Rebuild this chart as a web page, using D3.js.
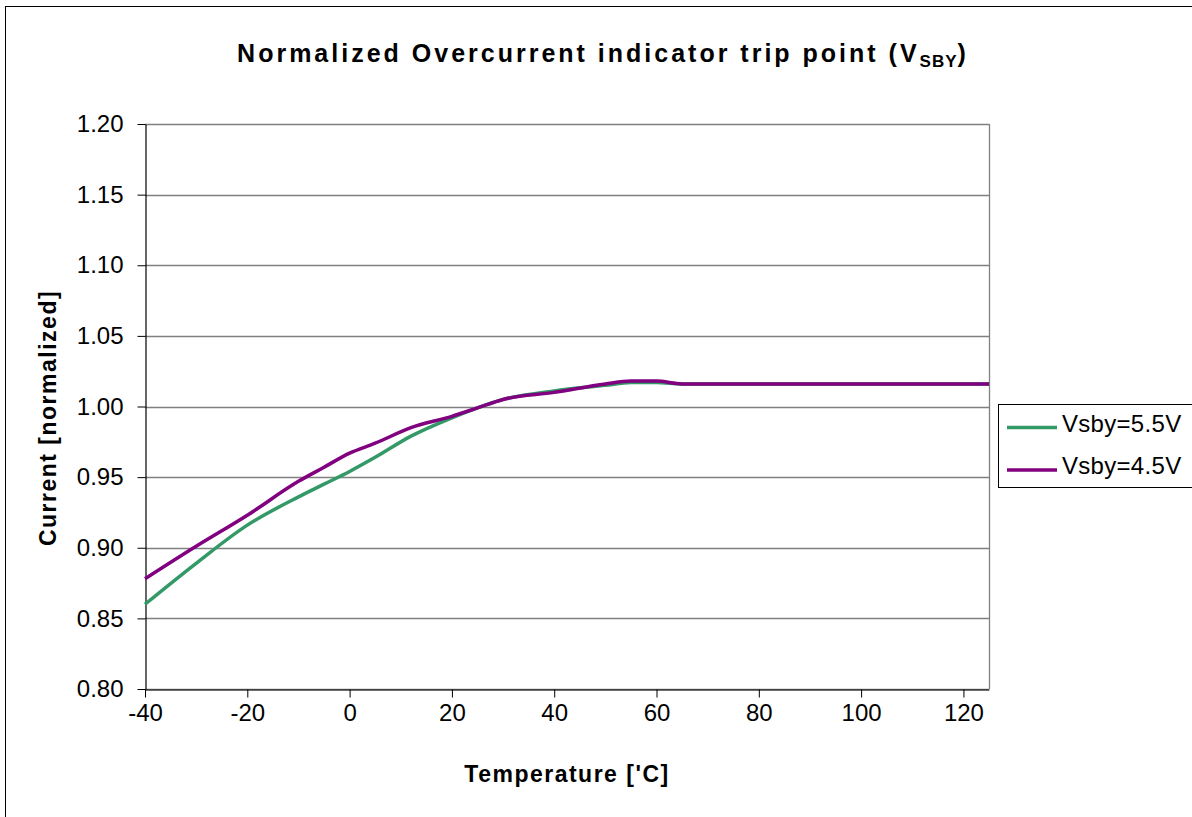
<!DOCTYPE html>
<html><head><meta charset="utf-8">
<script src="https://cdn.jsdelivr.net/npm/d3@7"></script>
<style>body{margin:0;background:#fff}svg{display:block;font-family:"Liberation Sans",Arial,sans-serif}</style>
</head><body>
<script>
const temps = [-40,-30,-20,-10,-5,0,5,12,20,25,30,40,50,55,60,65,125];
const vsby55 = [0.860,0.889,0.916,0.936,0.945,0.954,0.964,0.979,0.992,0.999,1.005,1.011,1.015,1.017,1.017,1.016,1.016];
const vsby45 = [0.878,0.901,0.923,0.947,0.957,0.967,0.974,0.985,0.993,0.999,1.005,1.010,1.016,1.018,1.018,1.016,1.016];
const seriesNames = ["Vsby=5.5V","Vsby=4.5V"];
const seriesColors = ["#339966","#800080"];
const yTicks = [0.80,0.85,0.90,0.95,1.00,1.05,1.10,1.15,1.20];
const xTicks = [-40,-20,0,20,40,60,80,100,120];

const W=1192,H=817;
const svg=d3.select("body").append("svg").attr("width",W).attr("height",H);
svg.append("rect").attr("x",5.5).attr("y",6.5).attr("width",W).attr("height",H).attr("fill","#fff").attr("stroke","#000").attr("stroke-width",1);

const L=145,R=989,T=124,B=689;
const x=d3.scaleLinear().domain([-40,125]).range([L,R]);
const y=d3.scaleLinear().domain([0.80,1.20]).range([B,T]);

svg.append("g").selectAll("line").data(yTicks).join("line")
 .attr("x1",L).attr("x2",R).attr("y1",d=>Math.round(y(d))+0.5).attr("y2",d=>Math.round(y(d))+0.5)
 .attr("stroke","#808080").attr("stroke-width",1.3);
svg.append("line").attr("x1",R+0.5).attr("x2",R+0.5).attr("y1",T).attr("y2",B).attr("stroke","#808080").attr("stroke-width",1.3);

const yAxis=svg.append("g").attr("transform",`translate(${L+0.5},0)`)
 .call(d3.axisLeft(y).tickValues(yTicks).tickFormat(d3.format(".2f")).tickSize(8).tickSizeOuter(0));
const xAxis=svg.append("g").attr("transform",`translate(0,${B+0.5})`)
 .call(d3.axisBottom(x).tickValues(xTicks).tickFormat(d=>d).tickSize(8).tickSizeOuter(0));
[yAxis,xAxis].forEach(a=>{a.select(".domain").attr("stroke","#000").attr("stroke-width",1.2);
 a.selectAll(".tick line").attr("stroke","#000");
 a.selectAll("text").attr("font-size",24).attr("fill","#000").attr("font-family","'Liberation Sans',Arial,sans-serif");});
yAxis.selectAll("text").attr("x",-22);
xAxis.selectAll("text").attr("y",24).attr("dy","0.32em");

const series=[vsby55,vsby45];
const line=d3.line().x((d,i)=>x(temps[i])).y(d=>y(d)).curve(d3.curveMonotoneX);
series.forEach((s,k)=>{
 svg.append("path").attr("d",line(s)).attr("fill","none").attr("stroke",seriesColors[k]).attr("stroke-width",3.5).attr("stroke-linejoin","round");
});

const t=svg.append("text").attr("x",603).attr("y",62).attr("text-anchor","middle").attr("font-size",25).attr("font-weight","bold").attr("letter-spacing",3);
t.append("tspan").text("Normalized Overcurrent indicator trip point (V");
t.append("tspan").attr("font-size",17).attr("dy",5).attr("letter-spacing",1).text("SBY");
t.append("tspan").attr("dy",-5).text(")");

svg.append("text").attr("x",567).attr("y",782).attr("text-anchor","middle").attr("font-size",23).attr("font-weight","bold").attr("letter-spacing",1.5).text("Temperature ['C]");
svg.append("text").attr("transform","translate(56,418) rotate(-90)").attr("text-anchor","middle").attr("font-size",23).attr("font-weight","bold").attr("letter-spacing",1.5).text("Current [normalized]");

svg.append("rect").attr("x",998.5).attr("y",404.5).attr("width",220).attr("height",83).attr("fill","#fff").attr("stroke","#000").attr("stroke-width",1);
seriesNames.forEach((n,k)=>{
 const ly=427.5+k*42.5;
 svg.append("line").attr("x1",1007).attr("x2",1057).attr("y1",ly).attr("y2",ly).attr("stroke",seriesColors[k]).attr("stroke-width",3.5);
 svg.append("text").attr("x",1062).attr("y",ly+4).attr("font-size",24).attr("letter-spacing",0.3).text(n);
});
</script>
</body></html>
